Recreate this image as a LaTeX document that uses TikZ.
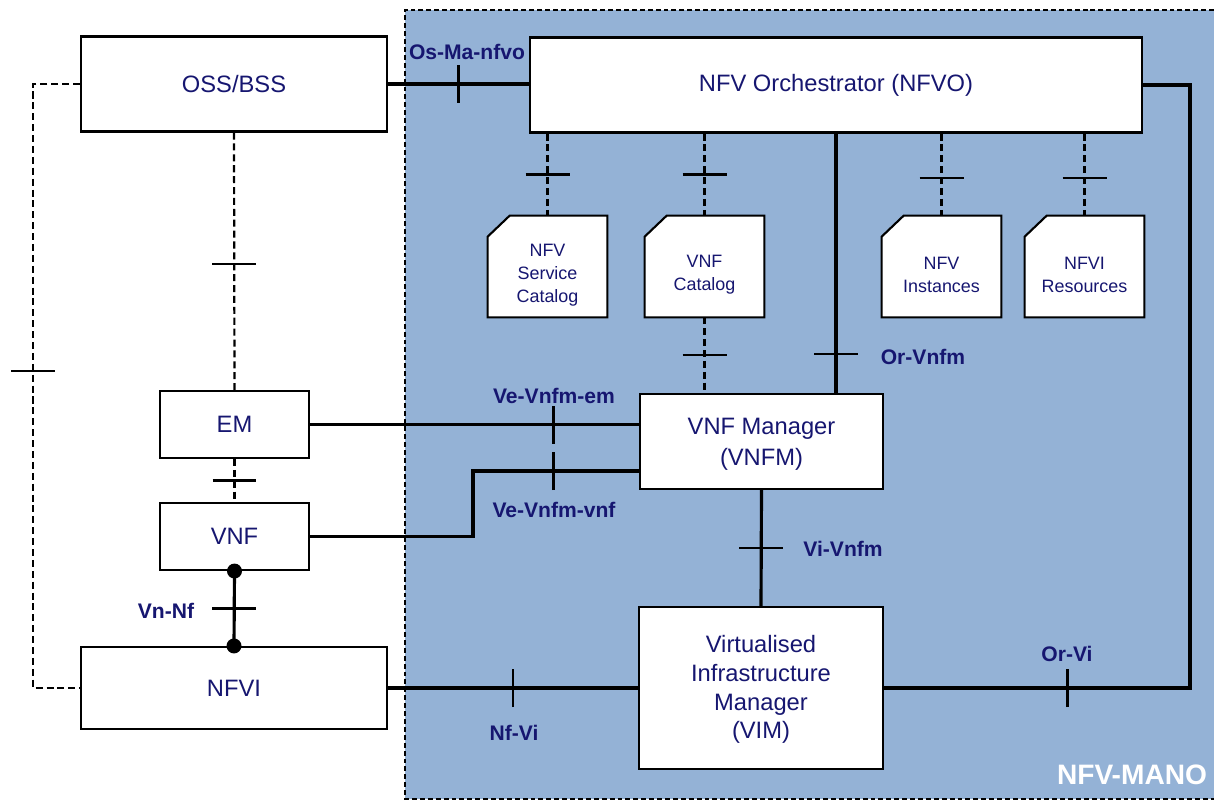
\documentclass[tikz,border=0pt]{standalone}
\usepackage{fontspec}
\setmainfont{Liberation Sans}
\usetikzlibrary{positioning}
\definecolor{manoblue}{RGB}{148,178,214}
\definecolor{labelblue}{RGB}{22,22,112}

\begin{document}
\begin{tikzpicture}[
  x=0.02cm, y=-0.02cm,
  font=\fontsize{13.5}{16.4}\selectfont,
  block/.style={draw, line width=1.2pt, fill=white, text=labelblue, align=center,
                inner sep=1pt},
  repo/.style={minimum width=2.38cm, minimum height=2.02cm, inner sep=0pt},
  repotext/.style={text=labelblue, align=center, font=\fontsize{10.2}{13}\selectfont},
  refpt/.style={line width=1.8pt},
  opt/.style={line width=1.25pt, dash pattern=on 4pt off 2.2pt},
  tick/.style={line width=1.3pt},
  iflabel/.style={font=\fontsize{12}{14}\selectfont\bfseries, text=labelblue},
  dot/.style={circle, fill=black, inner sep=0pt, minimum size=0.3cm}
]
\useasboundingbox (0,0) rectangle (1214,801);

% NFV-MANO area
\fill[manoblue] (405,10) rectangle (1214,799);
\draw[line width=1.35pt, dash pattern=on 2.8pt off 1.7pt]
  (1214,10) -- (405,10) -- (405,799) -- (1214,799);
\node[font=\fontsize{16}{18}\selectfont\bfseries, text=white] (manolbl) at (1132,775) {NFV-MANO};

% blocks
\node[block, minimum width=6.12cm, minimum height=1.9cm] (oss) at (234,84) {OSS/BSS};
\node[block, minimum width=12.24cm, minimum height=1.9cm] (nfvo) at (836,85) {NFV Orchestrator (NFVO)};
\node[block, minimum width=2.98cm, minimum height=1.34cm] (em) at (234.5,424.5) {EM};
\node[block, minimum width=2.98cm, minimum height=1.34cm] (vnf) at (234.5,536.5) {VNF};
\node[block, minimum width=6.12cm, minimum height=1.64cm] (nfvi) at (234,688) {NFVI};
\node[block, minimum width=4.86cm, minimum height=1.9cm,
      font=\fontsize{13.5}{17.5}\selectfont] (vnfm) at (761.5,441.5) {\strut VNF Manager\\(VNFM)};
\node[block, minimum width=4.88cm, minimum height=3.24cm] (vim) at (761,688)
  {\strut Virtualised\\Infrastructure\\Manager\\(VIM)};

% repositories (cut corner boxes)
\foreach \n/\x/\txt in {nsc/547.5/{NFV\\Service\\Catalog}, vnfcat/704.5/{VNF\\Catalog},
                        nfvins/941.5/{NFV\\Instances}, nfvires/1084.5/{NFVI\\Resources}} {
  \node[repo] (\n) at (\x,266.5) {};
  \filldraw[fill=white, line width=1.2pt, line join=miter]
    (\n.south west) -- ([yshift=-0.42cm]\n.north west) -- ([xshift=0.44cm]\n.north west)
    -- (\n.north east) -- (\n.south east) -- cycle;
  \node[repotext] (\n txt) at ([yshift=-0.17cm]\n.center) {\txt};
}

\coordinate (lrail) at (33,0);
\coordinate (rrail) at (1190,0);
\coordinate (vnfstep) at (473,471);

% reference points (solid)
\draw[refpt] (oss.east) -- coordinate[pos=0.5] (tosma) (nfvo.west |- oss.east);
\draw[refpt] (nfvo.south) -- coordinate[pos=0.85] (torvnfm) (nfvo.south |- vnfm.north);
\draw[refpt] (vnfm.south) -- coordinate[pos=0.5] (tvivnfm) (vim.north);
\draw[refpt] (nfvi.east) -- coordinate[pos=0.5] (tnfvi) (vim.west);
\draw[refpt] (vim.east) -- coordinate[pos=0.6] (torvi) (vim.east -| rrail) |- (nfvo.east);
\draw[refpt] (em.east) -- coordinate[pos=0.74] (tveem) (em.east -| vnfm.west);
\draw[refpt] (vnf.east) -| (vnfstep) -- coordinate[pos=0.485] (tvevnf) (vnfstep -| vnfm.west);
\draw[refpt] (vnf.south) -- coordinate[pos=0.5] (tvnnf) (nfvi.north);
\node[dot] (d1) at (vnf.south) {};
\node[dot] (d2) at (nfvi.north) {};

% other reference points (dashed)
\draw[opt] (nsc.north |- nfvo.south) -- coordinate[pos=0.5] (tnsc) (nsc.north);
\draw[opt] (vnfcat.north |- nfvo.south) -- coordinate[pos=0.5] (tvnfcat) (vnfcat.north);
\draw[opt] (nfvins.north |- nfvo.south) -- coordinate[pos=0.54] (tnfvins) (nfvins.north);
\draw[opt] (nfvires.north |- nfvo.south) -- coordinate[pos=0.54] (tnfvires) (nfvires.north);
\draw[opt] (vnfcat.south) -- coordinate[pos=0.5] (tcatvnfm) (vnfcat.south |- vnfm.north);
\draw[opt] (oss.south) -- coordinate[pos=0.51] (tossem) (em.north);
\draw[opt] (em.south) -- coordinate[pos=0.5] (temvnf) (vnf.north);
\draw[opt] (oss.west) -- (oss.west -| lrail) -- coordinate[pos=0.475] (tossnfvi)
  (nfvi.west -| lrail) -- (nfvi.west);

% ticks
\foreach \t in {torvnfm,tvivnfm,tvnnf,tnsc,tvnfcat,tnfvins,tnfvires,tcatvnfm,tossem,temvnf,tossnfvi}
  \draw[tick] ([xshift=-0.44cm]\t) -- ([xshift=0.44cm]\t);
\foreach \t in {tosma,tnfvi,torvi,tveem,tvevnf}
  \draw[tick] ([yshift=-0.38cm]\t) -- ([yshift=0.38cm]\t);

% labels
\node[iflabel] (lOsMa)  at (467,52)  {Os-Ma-nfvo};
\node[iflabel] (lVeEm)  at (554,396) {Ve-Vnfm-em};
\node[iflabel] (lVeVnf) at (554,510) {Ve-Vnfm-vnf};
\node[iflabel] (lOrVnfm) at (923,357) {Or-Vnfm};
\node[iflabel] (lViVnfm) at (843,549) {Vi-Vnfm};
\node[iflabel] (lVnNf)  at (166,611) {Vn-Nf};
\node[iflabel] (lNfVi)  at (514,733) {Nf-Vi};
\node[iflabel] (lOrVi)  at (1067,654) {Or-Vi};
\end{tikzpicture}
\end{document}
